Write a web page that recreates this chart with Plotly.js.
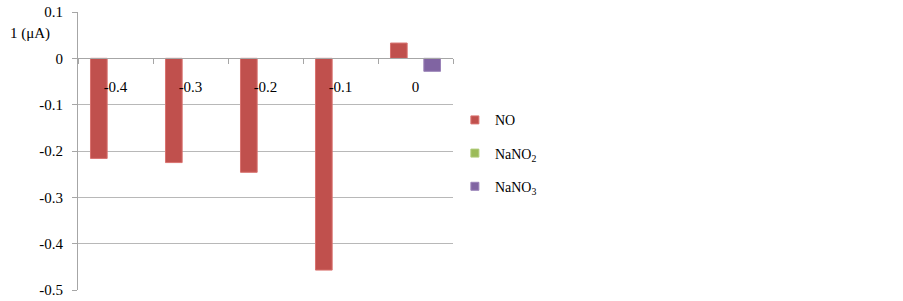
<!DOCTYPE html>
<html>
<head>
<meta charset="utf-8">
<script src="https://cdn.plot.ly/plotly-3.0.1.min.js"></script>
<style>html,body{margin:0;padding:0;background:#fff;}#chart{width:903px;height:301px;}</style>
</head>
<body>
<div id="chart"></div>
<script>
const categories = ["-0.4", "-0.3", "-0.2", "-0.1", "0"];
const seriesNames = ["NO", "NaNO<sub>2</sub>", "NaNO<sub>3</sub>"];
const valuesNO = [-0.216, -0.225, -0.246, -0.457, 0.033];
const valuesNaNO2 = [0, 0, 0, 0, 0];
const valuesNaNO3 = [0, 0, 0, 0, -0.028];
const yTicks = [0.1, 0, -0.1, -0.2, -0.3, -0.4, -0.5];
const yTickLabels = ["0.1", "0", "-0.1", "-0.2", "-0.3", "-0.4", "-0.5"];

const colors = ["#C0504D", "#9BBB59", "#8064A2"];
const lineColors = ["#D9726F", "#B0CC7A", "#9A82B8"];
const allValues = [valuesNO, valuesNaNO2, valuesNaNO3];
const font = "Liberation Serif";

const barTraces = allValues.map((vals, i) => ({
  type: "bar",
  x: categories,
  y: vals,
  name: seriesNames[i],
  legendgroup: "g" + i,
  showlegend: false,
  marker: {color: colors[i], line: {color: lineColors[i], width: vals.map(v => v === 0 ? 0 : 1)}},
  hoverinfo: "none"
}));

// legend entries with small square swatches, tied to the bar series
const legendTraces = allValues.map((vals, i) => ({
  type: "scatter",
  mode: "markers",
  x: [null],
  y: [null],
  name: seriesNames[i],
  legendgroup: "g" + i,
  showlegend: true,
  marker: {symbol: "square", size: 8, color: colors[i], line: {color: lineColors[i], width: 1}},
  hoverinfo: "none"
}));

const layout = {
  width: 903, height: 301,
  margin: {l: 78, r: 450, t: 12, b: 11},
  paper_bgcolor: "#fff", plot_bgcolor: "#fff",
  font: {family: font, size: 14, color: "#000"},
  barmode: "group",
  bargap: 0.333,
  bargroupgap: 0,
  showlegend: true,
  legend: {
    x: 1.005, xanchor: "left", y: 0.668, yanchor: "top",
    traceorder: "grouped", tracegroupgap: 12,
    font: {family: font, size: 14, color: "#000"},
    itemwidth: 30
  },
  xaxis: {
    type: "category",
    range: [-0.5, 4.5],
    anchor: "free", position: 0.5 / 0.6,
    showline: true, linecolor: "#a6a6a6", linewidth: 1,
    ticks: "outside", tickson: "boundaries", ticklen: 5, tickcolor: "#a6a6a6",
    ticklabelstandoff: 15,
    showgrid: false, zeroline: false,
    tickfont: {family: font, size: 15, color: "#000"},
    fixedrange: true
  },
  yaxis: {
    range: [-0.5, 0.1],
    tickmode: "array", tickvals: yTicks, ticktext: yTickLabels,
    showline: true, linecolor: "#a6a6a6", linewidth: 1,
    ticks: "outside", ticklen: 5, tickcolor: "#a6a6a6",
    ticklabelstandoff: 6,
    showgrid: true, gridcolor: "#b8b8b8", gridwidth: 1,
    zeroline: false,
    tickfont: {family: font, size: 15, color: "#000"},
    fixedrange: true
  },
  annotations: [{
    text: "1 (μA)", xref: "paper", yref: "paper",
    x: -0.069, xanchor: "right", y: 0.921, yanchor: "middle",
    showarrow: false, font: {family: font, size: 15, color: "#000"}
  }]
};

Plotly.newPlot("chart", barTraces.concat(legendTraces), layout, {displayModeBar: false, staticPlot: true});
</script>
</body>
</html>
